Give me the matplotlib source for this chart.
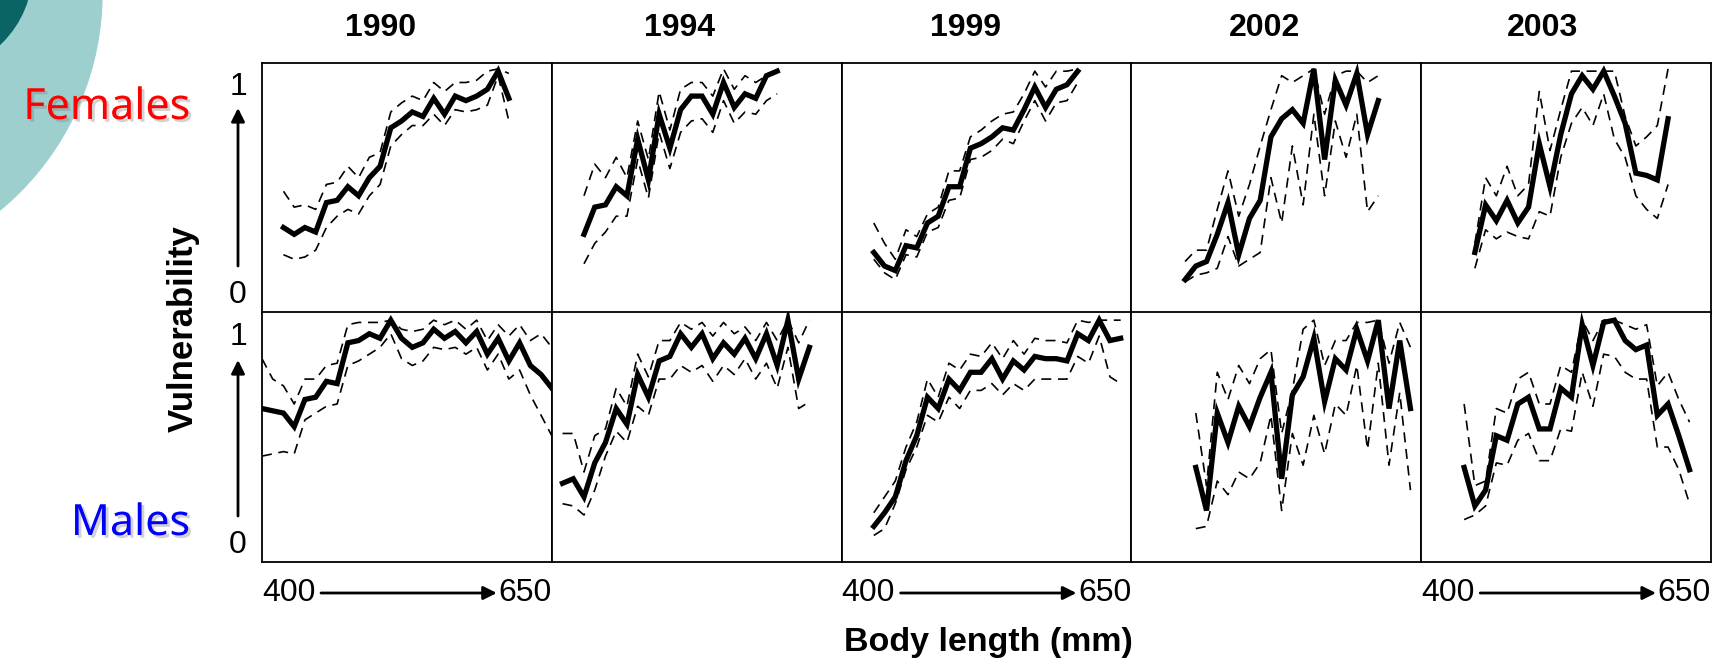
import numpy as np
import matplotlib.pyplot as plt
from matplotlib.patches import Circle
import matplotlib.patheffects as pe

plt.rcParams['font.family'] = ['Liberation Sans', 'DejaVu Sans']

years = ["1990", "1994", "1999", "2002", "2003"]
bins = np.arange(390, 670, 10)   # body length bins (mm)
x_ticks = ["400", "650"]

# Females
f1990_start = 410
f1990_mid = [.30,.27,.30,.28,.41,.42,.48,.44,.52,.57,.74,.77,.81,.79,.87,.80,.88,.86,.88,.91,.99,.87]
f1990_hi = [.46,.39,.40,.38,.49,.50,.57,.52,.61,.63,.81,.85,.88,.86,.94,.90,.94,.94,.95,.99,1.0,.98]
f1990_lo = [.18,.16,.17,.20,.30,.35,.38,.36,.44,.49,.66,.71,.75,.75,.80,.75,.82,.81,.82,.84,.97,.77]

f1994_start = 420
f1994_mid = [.27,.39,.40,.48,.44,.69,.51,.80,.65,.82,.88,.88,.80,.94,.83,.89,.87,.97,.99]
f1994_hi = [.44,.58,.52,.61,.52,.77,.60,.90,.73,.91,.94,.94,.88,1.0,.91,.97,.94,.97,.99]
f1994_lo = [.14,.23,.28,.35,.35,.60,.43,.72,.56,.72,.77,.78,.72,.86,.76,.81,.80,.86,.89]

f1999_start = 420
f1999_mid = [.19,.13,.11,.22,.21,.32,.35,.48,.48,.65,.67,.70,.74,.73,.82,.92,.83,.91,.93,.99]
f1999_hi = [.32,.23,.16,.29,.26,.36,.39,.55,.55,.70,.73,.77,.80,.81,.89,.99,.92,.99,.99,1.0]
f1999_lo = [.16,.10,.07,.18,.17,.28,.30,.42,.43,.60,.61,.64,.69,.67,.77,.86,.77,.85,.86,.94]

f2002_start = 440
f2002_mid = [.07,.13,.15,.27,.41,.18,.34,.42,.70,.78,.82,.76,1.0,.60,.95,.84,.98,.71,.86]
f2002_hi = [.15,.20,.20,.38,.55,.35,.49,.66,.82,.97,.94,.97,1.0,.80,.97,.99,.99,.94,.97]
f2002_lo = [.06,.09,.10,.12,.26,.13,.16,.19,.52,.32,.66,.40,.80,.44,.77,.61,.80,.37,.44]

f2003_start = 440
f2003_mid = [.19,.40,.33,.42,.32,.39,.67,.48,.71,.89,.97,.91,.99,.88,.76,.54,.53,.51,.78]
f2003_hi = [.23,.52,.44,.57,.44,.49,.90,.64,.82,.99,.99,.99,.99,.99,.79,.66,.70,.75,1.0]
f2003_lo = [.12,.29,.25,.28,.26,.25,.37,.35,.61,.76,.83,.75,.89,.69,.61,.44,.38,.34,.49]

# Males
m1990_start = 390
m1990_mid = [.60,.59,.58,.52,.64,.65,.72,.71,.89,.90,.93,.91,.99,.91,.87,.89,.95,.91,.94,.89,.94,.84,.91,.81,.89,.79,.75,.69]
m1990_hi = [.82,.73,.70,.62,.73,.73,.79,.80,.97,.98,.98,.98,.99,.95,.94,.95,.99,.97,.99,.95,.99,.90,.97,.92,.97,.90,.93,.87]
m1990_lo = [.39,.40,.41,.40,.55,.58,.61,.62,.79,.81,.84,.87,.93,.82,.79,.81,.87,.86,.87,.84,.87,.77,.84,.73,.77,.66,.57,.48]

m1994_start = 400
m1994_mid = [.27,.29,.21,.36,.45,.60,.53,.75,.65,.81,.83,.93,.87,.93,.82,.89,.84,.91,.82,.93,.79,.99,.73,.87]
m1994_hi = [.49,.49,.32,.48,.51,.69,.61,.84,.74,.90,.90,.98,.95,.98,.92,.98,.93,.96,.90,.98,.90,.99,.89,.99]
m1994_lo = [.18,.17,.13,.24,.39,.50,.45,.61,.57,.73,.73,.79,.76,.79,.72,.79,.75,.82,.73,.80,.69,.87,.60,.63]

m1999_start = 420
m1999_mid = [.08,.14,.21,.37,.48,.65,.60,.73,.68,.76,.76,.82,.73,.81,.77,.83,.82,.82,.81,.93,.90,.99,.90,.91]
m1999_hi = [.14,.21,.28,.43,.54,.73,.65,.80,.77,.84,.83,.89,.82,.90,.84,.91,.90,.90,.89,.99,.98,.99,.99,.99]
m1999_lo = [.04,.07,.18,.33,.43,.57,.54,.65,.60,.68,.68,.71,.66,.71,.68,.73,.73,.73,.73,.83,.80,.92,.74,.71]

m2002_start = 450
m2002_mid = [.34,.15,.58,.45,.61,.52,.65,.76,.29,.66,.74,.91,.63,.82,.77,.95,.81,.99,.60,.90,.60]
m2002_hi = [.58,.26,.76,.64,.79,.71,.82,.86,.49,.68,.95,.99,.79,.90,.90,.98,.98,.99,.80,.98,.87]
m2002_lo = [.07,.08,.28,.22,.32,.29,.36,.57,.15,.49,.35,.57,.40,.62,.57,.79,.42,.80,.35,.67,.24]

m2003_start = 430
m2003_mid = [.34,.17,.24,.48,.46,.62,.65,.51,.51,.69,.65,.97,.79,.98,.99,.90,.86,.88,.57,.62,.48,.33]
m2003_hi = [.62,.26,.28,.60,.58,.73,.76,.62,.62,.79,.76,.99,.90,.99,.99,.97,.95,.97,.70,.76,.64,.54]
m2003_lo = [.11,.13,.17,.36,.35,.46,.49,.37,.37,.51,.50,.76,.61,.84,.83,.76,.73,.73,.43,.43,.33,.18]

rows = [
    [(f1990_start, f1990_mid, f1990_hi, f1990_lo), (f1994_start, f1994_mid, f1994_hi, f1994_lo),
     (f1999_start, f1999_mid, f1999_hi, f1999_lo), (f2002_start, f2002_mid, f2002_hi, f2002_lo),
     (f2003_start, f2003_mid, f2003_hi, f2003_lo)],
    [(m1990_start, m1990_mid, m1990_hi, m1990_lo), (m1994_start, m1994_mid, m1994_hi, m1994_lo),
     (m1999_start, m1999_mid, m1999_hi, m1999_lo), (m2002_start, m2002_mid, m2002_hi, m2002_lo),
     (m2003_start, m2003_mid, m2003_hi, m2003_lo)],
]

W, H = 1728, 662
fig = plt.figure(figsize=(W / 100, H / 100), dpi=100)

# background layer in pixel coords
bg = fig.add_axes([0, 0, 1, 1])
bg.set_xlim(0, W); bg.set_ylim(H, 0); bg.axis('off')
bg.add_patch(Circle((-180, -7), 282, color='#9dcfcf', zorder=0))
bg.add_patch(Circle((-70, -30), 102, color='#0a6464', zorder=1))

# panel grid
left0, pw = 262, 289.8
row_top = [63, 312]
ph = 249.5
for r in range(2):
    for c in range(5):
        l = left0 + c * pw
        t = row_top[r]
        ax = fig.add_axes([l / W, 1 - (t + ph) / H, pw / W, ph / H])
        start, mid, hi, lo = rows[r][c]
        i0 = (start - 390) // 10
        x = bins[i0:i0 + len(mid)]
        ax.plot(x, hi, color='k', lw=1.2, ls=(0, (6, 4)))
        ax.plot(x, lo, color='k', lw=1.2, ls=(0, (6, 4)))
        ax.plot(x, mid, color='k', lw=3.8, solid_joinstyle='miter')
        ax.set_xlim(390, 660)
        ax.set_ylim(-0.075, 1.026)
        ax.set_xticks([]); ax.set_yticks([])
        for s in ax.spines.values():
            s.set_linewidth(1.3)

# year titles
title_x = [381, 680, 966, 1265, 1543]
for tx, yr in zip(title_x, years):
    bg.text(tx, 28, yr, ha='center', va='center', fontsize=23, fontweight='bold')

# vertical 0 -> 1 axes
arrow = dict(arrowstyle='-|>', lw=2, color='k', mutation_scale=20, shrinkA=0, shrinkB=0)
for y1, y0, a_top, a_bot in [(87, 295, 108, 266), (337, 545, 360, 516)]:
    bg.text(238, y1, '1', ha='center', va='center', fontsize=23)
    bg.text(238, y0, '0', ha='center', va='center', fontsize=23)
    bg.annotate('', xy=(238, a_top), xytext=(238, a_bot), arrowprops=arrow)

# horizontal 400 -> 650 axes
for c in [0, 2, 4]:
    l = left0 + c * pw
    rgt = l + pw
    bg.text(l, 593, x_ticks[0], ha='left', va='center', fontsize=23)
    bg.text(rgt, 593, x_ticks[1], ha='right', va='center', fontsize=23)
    bg.annotate('', xy=(rgt - 55, 593), xytext=(l + 59, 593), arrowprops=arrow)

bg.text(183, 329, 'Vulnerability', rotation=90, ha='center', va='center',
        fontsize=25, fontweight='bold')
bg.text(988, 643, 'Body length (mm)', ha='center', va='center',
        fontsize=24.5, fontweight='bold')

shadow = [pe.withSimplePatchShadow(offset=(2, -2), shadow_rgbFace='gray', alpha=0.35)]
bg.text(190, 108, 'Females', color='red', ha='right', va='center', fontsize=31,
        family='Noto Sans', path_effects=shadow)
bg.text(190, 524, 'Males', color='blue', ha='right', va='center', fontsize=31,
        family='Noto Sans', path_effects=shadow)

fig.savefig('out.png', dpi=100)
